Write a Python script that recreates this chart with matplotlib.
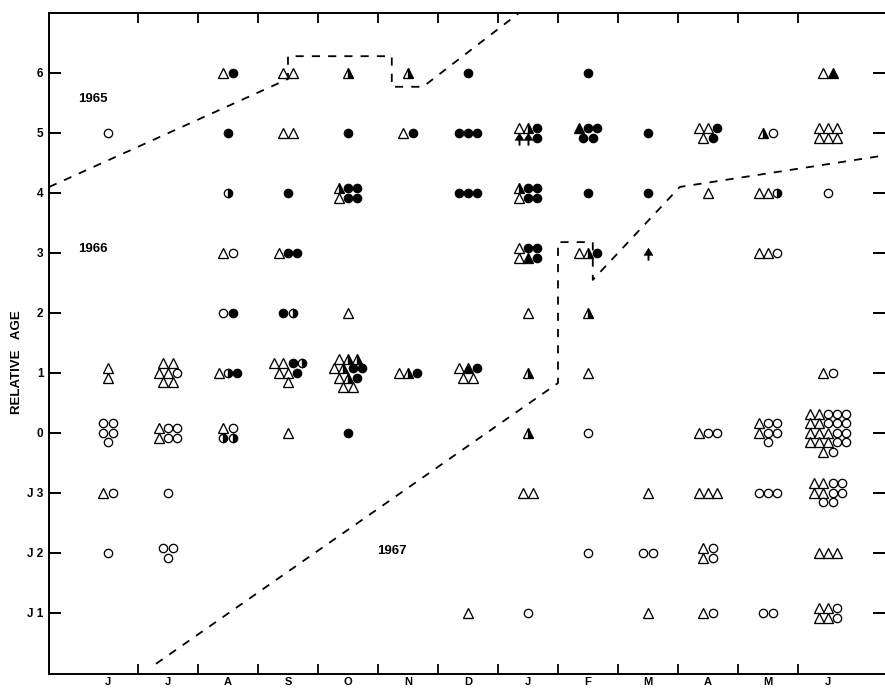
import matplotlib
matplotlib.use("Agg")
import matplotlib.pyplot as plt
from matplotlib.path import Path
from matplotlib.ticker import NullLocator
from matplotlib.transforms import ScaledTranslation

plt.rcParams["font.family"] = ["Liberation Sans", "DejaVu Sans"]
plt.rcParams["font.weight"] = "bold"

# collection months (June 1966 .. June 1967)
month_labels = ["J", "J", "A", "S", "O", "N", "D", "J", "F", "M", "A", "M", "J"]

# relative age classes (J 3 .. J 1 are juvenile stages)
age_values = [6, 5, 4, 3, 2, 1, 0, -1, -2, -3]
age_labels = ["6", "5", "4", "3", "2", "1", "0", "J 3", "J 2", "J 1"]

# specimens per month and age class; each glyph is one animal,
# "/" starts a new line of glyphs within the group
#   △ open triangle   ▲ solid triangle   ◭ half-solid triangle   ⇑ arrowed triangle
#   ○ open circle     ● solid circle     ◑ half-solid circle
age_6 = {2: "△●", 3: "△△", 4: "◭", 5: "◭", 6: "●", 8: "●", 12: "△▲"}
age_5 = {0: "○", 2: "●", 3: "△△", 4: "●", 5: "△●", 6: "●●●",
         7: "△◭●/⇑⇑●", 8: "▲●●/●●", 9: "●", 10: "△△●/△●", 11: "◭○",
         12: "△△△/△△△"}
age_4 = {2: "◑", 3: "●", 4: "◭●●/△●●", 6: "●●●", 7: "◭●●/△●●", 8: "●",
         9: "●", 10: "△", 11: "△△◑", 12: "○"}
age_3 = {2: "△○", 3: "△●●", 7: "△●●/△▲●", 8: "△◭●", 9: "⇑", 11: "△△○"}
age_2 = {2: "○●", 3: "●◑", 4: "△", 7: "△", 8: "◭"}
age_1 = {0: "△/△", 1: "△△/△△○/△△", 2: "△◑●", 3: "△△●◑/△△●/△",
         4: "△◭◭/△◭●●/△◭●/△△", 5: "△◭●", 6: "△▲●/△△", 7: "◭", 8: "△",
         12: "△○"}
age_0 = {0: "○○/○○/○", 1: "△○○/△○○", 2: "△○/◑◑", 3: "△", 4: "●", 7: "◭",
         8: "○", 10: "△○○", 11: "△○○/△○○/○",
         12: "△△○○○/△△○○○/△△△○○/△△△○○/△○"}
age_j3 = {0: "△○", 1: "○", 7: "△△", 9: "△", 10: "△△△", 11: "○○○",
          12: "△△○○/△△○○/○○"}
age_j2 = {0: "○", 1: "○○/○", 8: "○", 9: "○○", 10: "△○/△○", 12: "△△△"}
age_j1 = {6: "△", 7: "○", 9: "△", 10: "△○", 11: "○○", 12: "△△○/△△○"}

groups_by_age = {6: age_6, 5: age_5, 4: age_4, 3: age_3, 2: age_2, 1: age_1,
                 0: age_0, -1: age_j3, -2: age_j2, -3: age_j1}

# year-class labels
year_labels = ["1965", "1966", "1967"]
year_month = [-0.25, -0.25, 4.73]
year_age = [5.56, 3.07, -1.97]

# year-class boundaries
upper_month = [-0.98, 3.0, 3.0, 4.73, 4.73, 5.25, 6.85]
upper_age = [4.1, 5.9, 6.28, 6.28, 5.77, 5.77, 7.0]
lower_month = [0.8, 7.5, 7.5, 8.08, 8.08, 9.53, 12.97]
lower_age = [-3.85, 0.83, 3.18, 3.18, 2.55, 4.1, 4.63]

# ---------------------------------------------------------------- drawing
fig = plt.figure(figsize=(8.85, 6.91), dpi=100)
ax = fig.add_axes([49 / 885, 17 / 691, 836 / 885, 661 / 691])

arrow = Path([(0, 1), (-0.85, -0.35), (-0.12, -0.35), (-0.12, -1.3),
              (0.12, -1.3), (0.12, -0.35), (0.85, -0.35), (0, 1)],
             [Path.MOVETO] + [Path.LINETO] * 6 + [Path.CLOSEPOLY])

TRI = 6.8
CIR = 6.0
LW = 0.95
glyph_style = {
    "△": dict(marker="^", ms=TRI, mfc="white", mec="black", mew=LW),
    "▲": dict(marker="^", ms=TRI, mfc="black", mec="black", mew=LW),
    "◭": dict(marker="^", ms=TRI, fillstyle="right", mfc="black",
              markerfacecoloralt="white", mec="black", mew=LW),
    "⇑": dict(marker=arrow, ms=9.8, mfc="black", mec="black", mew=0.4),
    "○": dict(marker="o", ms=CIR, mfc="white", mec="black", mew=LW),
    "●": dict(marker="o", ms=CIR, mfc="black", mec="black", mew=LW),
    "◑": dict(marker="o", ms=CIR, fillstyle="right", mfc="black",
              markerfacecoloralt="white", mec="black", mew=LW),
}

DX = 6.6   # points between glyphs along a line
DY = 6.8   # points between lines of a group

for age, groups in groups_by_age.items():
    for month, pattern in groups.items():
        lines = pattern.split("/")
        n = len(lines)
        for r, line in enumerate(lines):
            oy = ((n - 1) / 2 - r) * DY
            m = len(line)
            for k, ch in enumerate(line):
                ox = (k - (m - 1) / 2) * DX
                tr = ax.transData + ScaledTranslation(ox / 72, oy / 72,
                                                      fig.dpi_scale_trans)
                ax.plot([month], [age], linestyle="none", transform=tr,
                        zorder=3, **glyph_style[ch])

for xs, ys in ((upper_month, upper_age), (lower_month, lower_age)):
    ax.plot(xs, ys, color="black", lw=1.3, dashes=(4.5, 4.5), zorder=2)

for label, mx, ay in zip(year_labels, year_month, year_age):
    ax.text(mx, ay, label, ha="center", va="center", fontsize=9.5,
            fontweight="bold")

ax.set_xlim(-0.983, 12.95)
ax.set_ylim(-4.02, 7.0)

ax.set_xticks(range(len(month_labels)))
ax.set_xticklabels(month_labels)
ax.set_xticks([k + 0.5 for k in range(len(month_labels) - 1)], minor=True)
ax.tick_params(axis="x", which="major", length=0, pad=2.5, labelsize=8)
ax.tick_params(axis="x", which="minor", direction="in", length=7.5,
               width=1.3, top=True, bottom=True)

ax.set_yticks(age_values)
ax.set_yticklabels(age_labels)
ax.yaxis.set_minor_locator(NullLocator())
ax.tick_params(axis="y", direction="in", length=8.5, width=1.4, left=True,
               right=True, labelsize=8.5, pad=4)

ax.spines["right"].set_visible(False)
for side in ("left", "top", "bottom"):
    ax.spines[side].set_linewidth(1.4)

fig.text(17 / 885, 1 - 362 / 691, "RELATIVE   AGE", rotation=90,
         ha="center", va="center", fontsize=9.5, fontweight="bold")

fig.savefig("out.png", dpi=100)
